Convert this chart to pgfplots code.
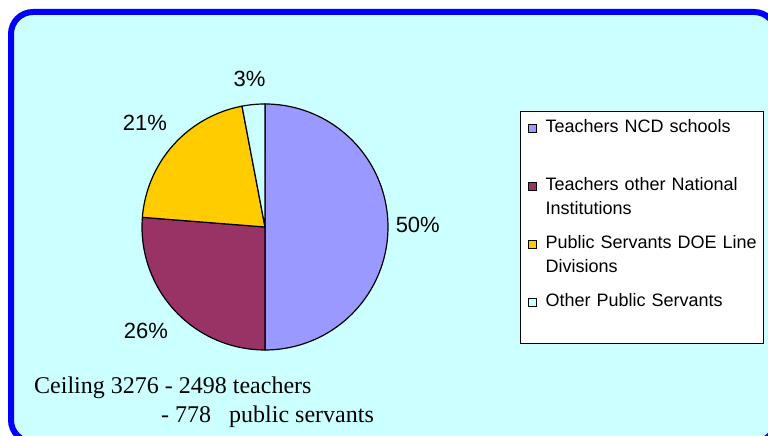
\documentclass[border=0pt]{standalone}
\usepackage{pgfplots}
\pgfplotsset{compat=1.18}
\usepackage{pgfplotstable}
\usepackage{fontspec}
\setmainfont{Liberation Sans}
\newfontfamily\seriffont{Liberation Serif}
\definecolor{bg}{HTML}{CCFFFF}
\definecolor{sA}{HTML}{9999FF}
\definecolor{sB}{HTML}{993366}
\definecolor{sC}{HTML}{FFCC00}
\definecolor{sD}{HTML}{CCFFFF}
\definecolor{frameblue}{HTML}{0000FF}

\pgfplotstableread{
label value
A 1638
B 860
C 680
D 98
}\piedata

\begin{document}
\begin{tikzpicture}[x=1bp,y=1bp]
\pgfplotstablegetelem{0}{value}\of\piedata \let\vA\pgfplotsretval
\pgfplotstablegetelem{1}{value}\of\piedata \let\vB\pgfplotsretval
\pgfplotstablegetelem{2}{value}\of\piedata \let\vC\pgfplotsretval
\pgfplotstablegetelem{3}{value}\of\piedata \let\vD\pgfplotsretval
\pgfmathsetmacro\tot{\vA+\vB+\vC+\vD}
\pgfmathsetmacro\aA{90}
\pgfmathsetmacro\aB{\aA-360*(\vA/\tot)}
\pgfmathsetmacro\aC{\aB-360*(\vB/\tot)}
\pgfmathsetmacro\aD{\aC-360*(\vC/\tot)}
\pgfmathsetmacro\aE{\aD-360*(\vD/\tot)}
\useasboundingbox (0,0) rectangle (768,436);
\fill[white] (0,0) rectangle (768,436);
\draw[frameblue, line width=6bp, fill=bg, rounded corners=22bp] (11,-6) rectangle (776,424);
\begin{axis}[
  at={(265bp,209bp)}, anchor=origin,
  x=123bp, y=123bp,
  xmin=-1, xmax=1, ymin=-1, ymax=1,
  hide axis, clip=false,
  legend style={at={(1.5366,0.97154)}, anchor=north west, draw=black, line width=0.8bp,
    fill=white, inner xsep=4bp, inner ysep=0bp, column sep=9bp, row sep=0bp,
    font=\fontsize{18bp}{24.5bp}\selectfont,
    cells={anchor=base west},
    nodes={inner sep=0pt, text height=21bp, text depth=37bp},
    /tikz/every even column/.append style={text width=214bp}},
  legend image code/.code={\path (0bp,0bp) (11bp,0bp); \draw[#1,draw=black,line width=0.8bp] (3bp,0bp) rectangle (11bp,8bp);},
]
\addplot[fill=sA, draw=black, line width=1.2bp, domain=\aB:\aA, samples=80] ({cos(x)},{sin(x)}) -- (axis cs:0,0) -- cycle;
\addlegendentry{\mbox{Teachers NCD schools}}
\addplot[fill=sB, draw=black, line width=1.2bp, domain=\aC:\aB, samples=60] ({cos(x)},{sin(x)}) -- (axis cs:0,0) -- cycle;
\addlegendentry{\mbox{Teachers other National}\\Institutions}
\addplot[fill=sC, draw=black, line width=1.2bp, domain=\aD:\aC, samples=50] ({cos(x)},{sin(x)}) -- (axis cs:0,0) -- cycle;
\addlegendentry{\mbox{Public Servants DOE Line}\\Divisions}
\addplot[fill=sD, draw=black, line width=1.2bp, domain=\aE:\aD, samples=12] ({cos(x)},{sin(x)}) -- (axis cs:0,0) -- cycle;
\addlegendentry{\mbox{Other Public Servants}}
\node[font=\fontsize{22bp}{26bp}\selectfont] at (axis cs:1.242,0.016) {50\%};
\node[font=\fontsize{22bp}{26bp}\selectfont] at (axis cs:-0.969,-0.846) {26\%};
\node[font=\fontsize{22bp}{26bp}\selectfont] at (axis cs:-0.976,0.846) {21\%};
\node[font=\fontsize{22bp}{26bp}\selectfont] at (axis cs:-0.126,1.207) {3\%};
\end{axis}
\node[anchor=base west, inner sep=0pt, font=\seriffont\fontsize{24bp}{28bp}\selectfont] at (34,42) {Ceiling 3276 - 2498 teachers};
\node[anchor=base west, inner sep=0pt, font=\seriffont\fontsize{24bp}{28bp}\selectfont] at (161,13) {- 778\ \ \ public servants};
\end{tikzpicture}
\end{document}
